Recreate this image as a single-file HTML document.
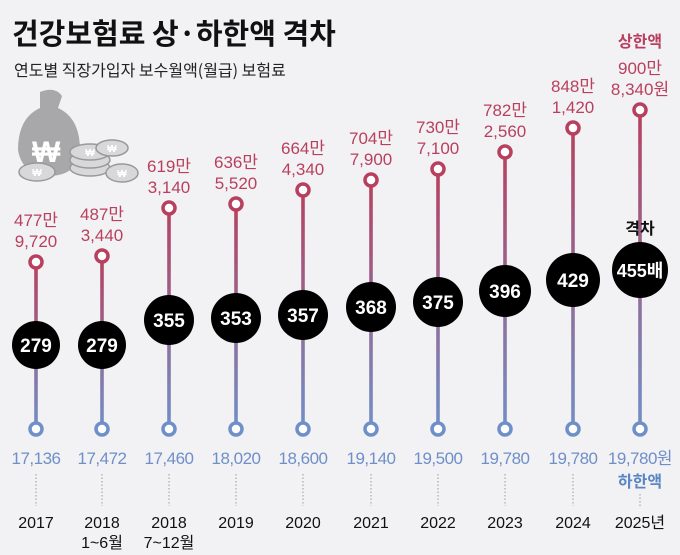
<!DOCTYPE html>
<html><head><meta charset="utf-8"><style>
body{margin:0;background:#f2f2f4;}
svg{display:block;font-family:"Liberation Sans","Noto Sans CJK KR",sans-serif;}
</style></head><body>
<svg width="680" height="555" viewBox="0 0 680 555">
<defs>
<linearGradient id="g" x1="0" y1="0" x2="0" y2="1" gradientUnits="objectBoundingBox">
<stop offset="0" stop-color="#b8405e"/><stop offset="1" stop-color="#7090c8"/></linearGradient>
</defs>
<rect width="680" height="555" fill="#f2f2f4"/>
<text x="12" y="44" font-size="29" font-weight="bold" fill="#111" font-family="Noto Sans CJK KR, sans-serif">건강보험료 상·하한액 격차</text>
<text x="14" y="76" font-size="16" fill="#222" font-family="Noto Sans CJK KR, sans-serif">연도별 직장가입자 보수월액(월급) 보험료</text>
<g fill="#a8a8aa">
<path d="M40 92 Q55 86 62 96 L58 108 Q80 118 80 150 Q78 175 50 176 Q22 175 18 150 Q18 118 40 108 Z"/>
<text x="32" y="162" font-size="30" font-weight="bold" fill="#fff">₩</text>
</g>
<g stroke="#999" stroke-width="1.5" fill="#d8d8da">
<ellipse cx="90" cy="168" rx="20" ry="8"/><ellipse cx="90" cy="160" rx="20" ry="8"/><ellipse cx="90" cy="152" rx="20" ry="8"/>
<ellipse cx="112" cy="148" rx="16" ry="8"/><ellipse cx="37" cy="172" rx="18" ry="9"/><ellipse cx="122" cy="173" rx="16" ry="9"/>
</g>
<g font-size="10" font-weight="bold" fill="#fff" text-anchor="middle"><text x="90" y="156">₩</text><text x="112" y="152">₩</text><text x="37" y="176">₩</text><text x="122" y="177">₩</text></g>
<g id="cols"></g>
<text x="640" y="47" font-size="16" font-weight="bold" fill="#b8405e" text-anchor="middle" font-family="Noto Sans CJK KR, sans-serif">상한액</text>
<text x="640" y="234" font-size="16" font-weight="bold" fill="#111" text-anchor="middle" font-family="Noto Sans CJK KR, sans-serif">격차</text>
<text x="640" y="487" font-size="16" font-weight="bold" fill="#5b86c4" text-anchor="middle" font-family="Noto Sans CJK KR, sans-serif">하한액</text>
</svg>
<script>
var d=[[36,262,345,24,"477만","9,720","279","17,136","2017",""],
[102,256,345,24,"487만","3,440","279","17,472","2018","1~6월"],
[169,208,320,25,"619만","3,140","355","17,460","2018","7~12월"],
[236,204,318,25,"636만","5,520","353","18,020","2019",""],
[303,190,315,25,"664만","4,340","357","18,600","2020",""],
[371,180,307,25,"704만","7,900","368","19,140","2021",""],
[438,169,302,25,"730만","7,100","375","19,500","2022",""],
[505,152,291,26,"782만","2,560","396","19,780","2023",""],
[573,128,280,27,"848만","1,420","429","19,780","2024",""],
[640,110,270,28,"900만","8,340원","455배","19,780원","2025년",""]];
var s="";
d.forEach(function(c){var x=c[0];
s+='<rect x="'+(x-1.8)+'" y="'+c[1]+'" width="3.6" height="'+(429-c[1])+'" fill="url(#g)"/>';
s+='<circle cx="'+x+'" cy="'+c[1]+'" r="6" fill="#fff" stroke="#b8405e" stroke-width="3.5"/>';
s+='<circle cx="'+x+'" cy="429" r="6" fill="#fff" stroke="#6f8fc8" stroke-width="3.5"/>';
s+='<text x="'+x+'" y="'+(c[1]-36)+'" font-size="17" fill="#b8405e" text-anchor="middle">'+c[4]+'</text>';
s+='<text x="'+x+'" y="'+(c[1]-15)+'" font-size="17" fill="#b8405e" text-anchor="middle">'+c[5]+'</text>';
s+='<circle cx="'+x+'" cy="'+c[2]+'" r="'+c[3]+'" fill="#000"/>';
s+='<text x="'+x+'" y="'+(c[2]+7)+'" font-size="'+(c[6].length>3?18:19)+'" font-weight="bold" fill="#fff" text-anchor="middle">'+c[6]+'</text>';
s+='<text x="'+x+'" y="464" font-size="17" fill="#6f8fc8" text-anchor="middle" letter-spacing="-0.5">'+c[7]+'</text>';
if(x!=640)s+='<line x1="'+x+'" y1="474" x2="'+x+'" y2="506" stroke="#999" stroke-width="1" stroke-dasharray="1.5 2"/>';
else s+='<line x1="'+x+'" y1="494" x2="'+x+'" y2="506" stroke="#999" stroke-width="1" stroke-dasharray="1.5 2"/>';
s+='<text x="'+x+'" y="528" font-size="16" fill="#111" text-anchor="middle">'+c[8]+'</text>';
if(c[9])s+='<text x="'+x+'" y="548" font-size="16" fill="#111" text-anchor="middle">'+c[9]+'</text>';
});
document.getElementById("cols").innerHTML=s;
</script>
</body></html>
